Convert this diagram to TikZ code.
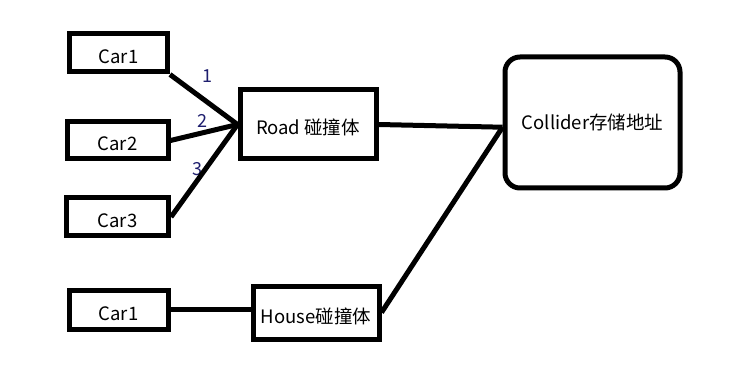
\documentclass[tikz,border=0pt]{standalone}
\usepackage{fontspec}
\setmainfont{Noto Sans CJK SC}
\definecolor{numblue}{RGB}{30,30,110}

\begin{document}
\begin{tikzpicture}[x=1pt,y=1pt,line width=5pt,
  box/.style={draw,rectangle,inner sep=0pt,text height=21pt,text depth=0pt,font=\fontsize{18.5}{22}\selectfont},
  store/.style={draw,rectangle,rounded corners=15pt,inner sep=0pt,font=\fontsize{18.5}{22}\selectfont},
  num/.style={text=numblue,inner sep=0pt,font=\fontsize{18}{22}\selectfont}]
 \useasboundingbox[fill=white] (0,0) rectangle (735,372);
 \node[box,minimum width=98,minimum height=38] (car1a) at (118.5,319) {Car1};
 \node[box,minimum width=101,minimum height=37] (car2) at (117.5,231.5) {Car2};
 \node[box,minimum width=102,minimum height=38] (car3) at (117.5,155) {Car3};
 \node[box,minimum width=136,minimum height=69] (road) at (308,247.5) {Road 碰撞体};
 \node[store,minimum width=175,minimum height=131] (collider) at (592.5,249.5) {Collider存储地址};
 \node[box,minimum width=99,minimum height=39] (car1b) at (118.5,62.5) {Car1};
 \node[box,minimum width=126,minimum height=53] (house) at (316,59.5) {House碰撞体};
 \node[num] (n1) at (207.5,296) {1};
 \node[num] (n2) at (202.7,251.3) {2};
 \node[num] (n3) at (197.7,203) {3};
 \draw (car1a.south east)--(road.west);
 \draw (car2.east)--(road.west);
 \draw (car3.east)--(road.west);
 \fill (road.west) circle (2.5);
 \draw (road.east)--(collider.183);
 \draw (house.east)--(collider.183);
 \draw (car1b.east)--(car1b.east -| house.west);
 \fill (car1b.east -| house.west) circle (2.5);
\end{tikzpicture}
\end{document}
